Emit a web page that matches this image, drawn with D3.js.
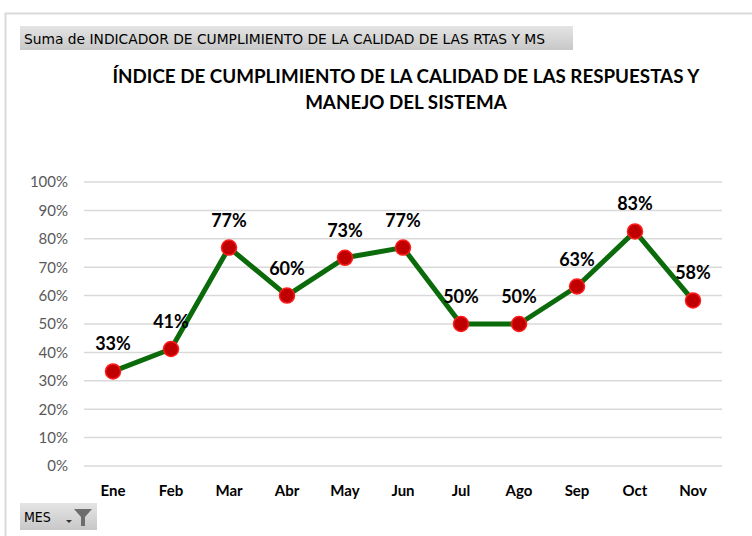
<!DOCTYPE html>
<html><head><meta charset="utf-8">
<script src="https://cdn.jsdelivr.net/npm/d3@7"></script>
<style>
html,body{margin:0;padding:0;background:#fff;}
svg{display:block;}
</style></head>
<body>
<svg id="chart" width="752" height="536"></svg>
<script>
const months = ["Ene","Feb","Mar","Abr","May","Jun","Jul","Ago","Sep","Oct","Nov"];
const values = [0.333, 0.412, 0.769, 0.600, 0.733, 0.769, 0.500, 0.500, 0.632, 0.826, 0.583];
const yTicks = [0,0.1,0.2,0.3,0.4,0.5,0.6,0.7,0.8,0.9,1.0];
const titleLines = ["ÍNDICE DE CUMPLIMIENTO DE LA CALIDAD DE LAS RESPUESTAS Y","MANEJO DEL SISTEMA"];
const fieldLabel = "Suma de INDICADOR DE CUMPLIMIENTO DE LA CALIDAD DE LAS RTAS Y MS";
const axisField = "MES";

const svg = d3.select("#chart");
const defs = svg.append("defs");
const g1 = defs.append("linearGradient").attr("id","btn").attr("x1",0).attr("y1",0).attr("x2",0).attr("y2",1);
g1.append("stop").attr("offset","0%").attr("stop-color","#e4e4e4");
g1.append("stop").attr("offset","100%").attr("stop-color","#c8c8c8");

// outer border
svg.append("line").attr("x1",5).attr("x2",752).attr("y1",13.5).attr("y2",13.5).attr("stroke","#d9d9d9").attr("stroke-width",2);
svg.append("line").attr("x1",5.5).attr("x2",5.5).attr("y1",13).attr("y2",536).attr("stroke","#d9d9d9").attr("stroke-width",2);

// field button
svg.append("rect").attr("x",20).attr("y",26).attr("width",553).attr("height",24).attr("fill","url(#btn)");
svg.append("text").attr("x",24).attr("y",43.5).attr("font-family","DejaVu Sans Condensed, DejaVu Sans, sans-serif")
  .attr("font-size",14).attr("fill","#000").attr("textLength",521).attr("lengthAdjust","spacingAndGlyphs").text(fieldLabel);

// title
const title = svg.append("text").attr("text-anchor","middle").attr("font-family","Lato, sans-serif")
  .attr("font-weight","bold").attr("font-size",18.8).attr("fill","#000");
titleLines.forEach((t,i)=>title.append("tspan").attr("x",406).attr("y",83+i*26).text(t));

const x = d3.scaleBand().domain(months).range([84,722]);
const y = d3.scaleLinear().domain([0,1]).range([466,182]);

// gridlines
svg.append("g").selectAll("line").data(yTicks).join("line")
  .attr("x1",84).attr("x2",722).attr("y1",d=>y(d)).attr("y2",d=>y(d))
  .attr("stroke","#d9d9d9").attr("stroke-width",1.5);

// y axis
const yAxis = svg.append("g").attr("transform","translate(68,0)")
  .call(d3.axisLeft(y).tickValues(yTicks).tickFormat(d3.format(".0%")).tickSize(0).tickPadding(0));
yAxis.select(".domain").remove();
yAxis.selectAll("text").attr("font-family","Lato, sans-serif").attr("font-size",15).attr("fill","#595959");

// x axis
const xAxis = svg.append("g").attr("transform","translate(0,482)")
  .call(d3.axisBottom(x).tickSize(0).tickPadding(0));
xAxis.select(".domain").remove();
xAxis.selectAll("text").attr("font-family","Lato, sans-serif").attr("font-weight","bold").attr("font-size",15).attr("fill","#000").attr("dy","0.9em");

const cx = d => x(d) + x.bandwidth()/2;
const data = months.map((m,i)=>({m, v: values[i]}));

svg.append("path").datum(data)
  .attr("d", d3.line().x(d=>cx(d.m)).y(d=>y(d.v)))
  .attr("fill","none").attr("stroke","#0b6b0b").attr("stroke-width",5).attr("stroke-linejoin","round");

svg.append("g").selectAll("circle").data(data).join("circle")
  .attr("cx",d=>cx(d.m)).attr("cy",d=>y(d.v)).attr("r",7.5)
  .attr("fill","#c00000").attr("stroke","#ff1a1a").attr("stroke-width",1.5);

svg.append("g").selectAll("text").data(data).join("text")
  .attr("x",d=>cx(d.m)).attr("y",d=>y(d.v)-21).attr("text-anchor","middle")
  .attr("font-family","Lato, sans-serif").attr("font-weight","bold").attr("font-size",18).attr("fill","#000")
  .text(d=>d3.format(".0%")(d.v));

// MES button
svg.append("rect").attr("x",20).attr("y",503).attr("width",77).attr("height",27).attr("fill","url(#btn)");
svg.append("text").attr("x",24).attr("y",522).attr("font-family","DejaVu Sans Condensed, DejaVu Sans, sans-serif")
  .attr("font-size",14).attr("fill","#000").text(axisField);
// dropdown arrow + filter icon
svg.append("path").attr("d","M66,520 L72,520 L69,523 Z").attr("fill","#333");
svg.append("path").attr("d","M74,509 L92,509 L85,517 L85,526 L81,526 L81,517 Z").attr("fill","#6d6d6d");
</script>
</body></html>
